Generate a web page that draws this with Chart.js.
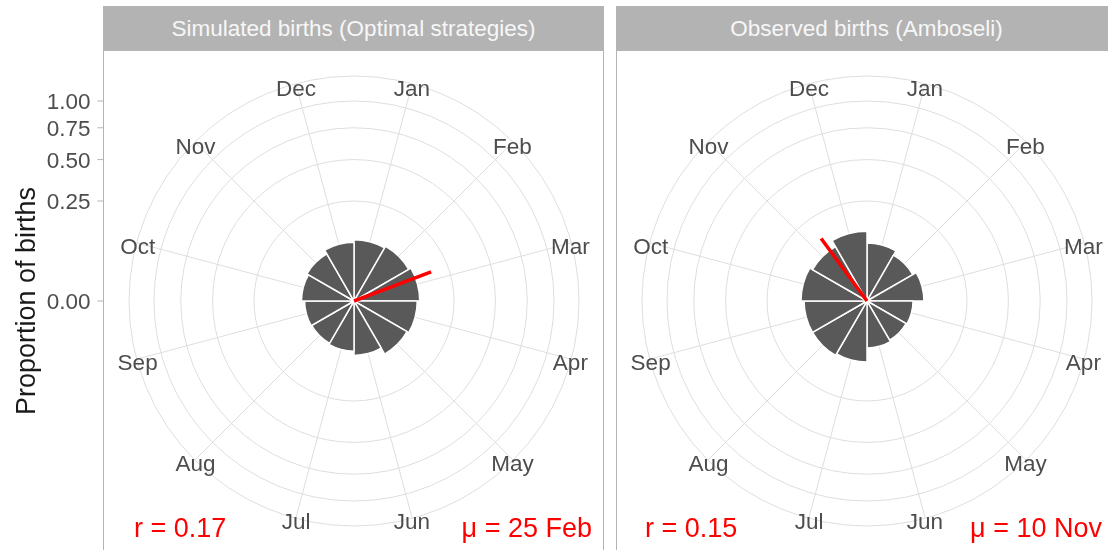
<!DOCTYPE html>
<html lang="en">
<head>
  <meta charset="UTF-8" />
  <title>Birth seasonality: simulated vs observed</title>
  <script src="https://cdn.jsdelivr.net/npm/chart.js@4"></script>
  <style>
    body {
      margin: 0;
      width: 1108px;
      height: 550px;
      overflow: hidden;
      background: #fff;
      position: relative;
      font-family: "Liberation Sans", Arial, sans-serif;
    }
    .strip {
      position: absolute;
      top: 6px;
      height: 45px;
      background: #b3b3b3;
      color: #f7f7f7;
      font-size: 22.5px;
      line-height: 46px;
      text-align: center;
      white-space: nowrap;
    }
    .panel {
      position: absolute;
      top: 50px;
      height: 502px;
      border: 1px solid #b3b3b3;
      box-sizing: border-box;
    }
    canvas { position: absolute; top: 51px; }
    .note {
      position: absolute;
      top: 510px;
      color: #ff0000;
      font-size: 27px;
      line-height: 36px;
      white-space: nowrap;
    }
  </style>
</head>
<body>
  <div class="panel" style="left:103px;width:501px"></div>
  <div class="panel" style="left:616px;width:501px"></div>
  <div class="strip" style="left:103px;width:501px">Simulated births (Optimal strategies)</div>
  <div class="strip" style="left:616px;width:501px">Observed births (Amboseli)</div>

  <canvas id="simChart" width="604" height="500" style="left:0"></canvas>
  <canvas id="obsChart" width="500" height="500" style="left:617px"></canvas>

  <div class="note" id="simR" style="left:134px"></div>
  <div class="note" id="simMu" style="right:516px"></div>
  <div class="note" id="obsR" style="left:645px"></div>
  <div class="note" id="obsMu" style="right:6px"></div>

  <script>
    // ---- data ----------------------------------------------------------
    const months = ['Jan', 'Feb', 'Mar', 'Apr', 'May', 'Jun',
                    'Jul', 'Aug', 'Sep', 'Oct', 'Nov', 'Dec'];
    const daysInMonth = [31, 28, 31, 30, 31, 30, 31, 31, 30, 31, 30, 31];

    // proportion of births per month
    const simulatedBirths = [0.094, 0.100, 0.108, 0.100, 0.094, 0.074,
                             0.063, 0.060, 0.061, 0.069, 0.074, 0.086];
    const observedBirths  = [0.084, 0.070, 0.081, 0.053, 0.051, 0.055,
                             0.093, 0.099, 0.099, 0.109, 0.099, 0.122];

    const proportionTicks = [0, 0.25, 0.5, 0.75, 1];

    // mean resultant length and mean birth date
    const simulatedR = 0.17;
    const simulatedMu = '25 Feb';
    const observedR = 0.15;
    const observedMu = '10 Nov';

    // radial limit: the outer ring sits at 1.125x the radius of 1.00
    const outerLimit = 1.125 * 1.125;

    // ---- square-root radial scale --------------------------------------
    class SqrtRadialScale extends Chart.RadialLinearScale {
      getDistanceFromCenterForValue(value) {
        if (value === null || isNaN(value)) return NaN;
        const k = this.drawingArea / Math.sqrt(this.max);
        return Math.sqrt(Math.max(value, 0)) * k;
      }
      getValueForDistanceFromCenter(distance) {
        const v = distance / (this.drawingArea / Math.sqrt(this.max));
        return v * v;
      }
    }
    SqrtRadialScale.id = 'sqrtRadial';
    Chart.register(SqrtRadialScale);

    // "25 Feb" -> position on the month axis (Jan = 1 at bar centre)
    function monthPosition(label) {
      const [d, m] = label.split(' ');
      const mi = months.indexOf(m);
      let day = Number(d) - 1;
      for (let i = 0; i < mi; i++) day += daysInMonth[i];
      return 1 + day / (365 / 12);
    }

    const GRID = '#dedede';
    const AXIS_TEXT = '#4d4d4d';
    const FONT = '"Liberation Sans", Arial, sans-serif';

    function decorPlugin(r, mu, withAxis) {
      return {
        id: 'polarDecor',
        beforeDatasetsDraw(chart) {
          const s = chart.scales.r;
          const ctx = chart.ctx;
          const step = 2 * Math.PI / months.length;
          ctx.save();
          ctx.strokeStyle = GRID;
          ctx.lineWidth = 1;
          months.forEach((m, i) => {
            const a = s.getIndexAngle(i) + step / 2 - Math.PI / 2;
            ctx.beginPath();
            ctx.moveTo(s.xCenter, s.yCenter);
            ctx.lineTo(s.xCenter + Math.cos(a) * s.drawingArea,
                       s.yCenter + Math.sin(a) * s.drawingArea);
            ctx.stroke();
          });
          ctx.restore();
        },
        afterDatasetsDraw(chart) {
          const s = chart.scales.r;
          const ctx = chart.ctx;
          const step = 2 * Math.PI / months.length;
          ctx.save();

          // mean direction vector
          const a = s.getIndexAngle(0) + (monthPosition(mu) - 0.5) * step - Math.PI / 2;
          const len = s.getDistanceFromCenterForValue(r);
          ctx.strokeStyle = '#ff0000';
          ctx.lineWidth = 3.5;
          ctx.beginPath();
          ctx.moveTo(s.xCenter, s.yCenter);
          ctx.lineTo(s.xCenter + Math.cos(a) * len, s.yCenter + Math.sin(a) * len);
          ctx.stroke();

          // month labels around the rim
          ctx.fillStyle = AXIS_TEXT;
          ctx.font = '22.5px ' + FONT;
          ctx.textAlign = 'center';
          ctx.textBaseline = 'middle';
          const labelR = s.drawingArea - 1;
          months.forEach((m, i) => {
            const t = s.getIndexAngle(i) + step / 2 - Math.PI / 2;
            ctx.fillText(m, s.xCenter + Math.cos(t) * labelR,
                            s.yCenter + Math.sin(t) * labelR + 5);
          });

          if (withAxis) {
            const x0 = 103.5;
            ctx.strokeStyle = '#b3b3b3';
            ctx.lineWidth = 1;
            ctx.textAlign = 'right';
            proportionTicks.forEach(v => {
              const y = s.yCenter - s.getDistanceFromCenterForValue(v);
              ctx.beginPath();
              ctx.moveTo(x0 - 6, y);
              ctx.lineTo(x0, y);
              ctx.stroke();
              ctx.fillText(v.toFixed(2), x0 - 13, y + 2);
            });
            ctx.fillStyle = '#1a1a1a';
            ctx.font = '27px ' + FONT;
            ctx.textAlign = 'center';
            ctx.translate(28, s.yCenter);
            ctx.rotate(-Math.PI / 2);
            ctx.fillText('Proportion of births', 0, 0);
          }
          ctx.restore();
        }
      };
    }

    function renderPolar(canvasId, values, r, mu, withAxis) {
      const pad = withAxis ? { left: 129, right: 25, top: 25, bottom: 25 } : 25;
      return new Chart(document.getElementById(canvasId), {
        type: 'polarArea',
        data: {
          labels: months,
          datasets: [{
            data: values,
            backgroundColor: '#595959',
            borderColor: '#ffffff',
            borderWidth: 1.5
          }]
        },
        options: {
          responsive: false,
          animation: false,
          layout: { padding: pad },
          plugins: { legend: { display: false }, tooltip: { enabled: false } },
          scales: {
            r: {
              type: 'sqrtRadial',
              min: 0,
              max: outerLimit,
              startAngle: 0,
              angleLines: { display: false },
              pointLabels: { display: false },
              grid: { circular: true, color: GRID, lineWidth: 1 },
              ticks: { display: false },
              afterBuildTicks: scale => {
                scale.ticks = proportionTicks.concat([outerLimit]).map(v => ({ value: v }));
              }
            }
          }
        },
        plugins: [decorPlugin(r, mu, withAxis)]
      });
    }

    renderPolar('simChart', simulatedBirths, simulatedR, simulatedMu, true);
    renderPolar('obsChart', observedBirths, observedR, observedMu, false);

    document.getElementById('simR').textContent = 'r = ' + simulatedR.toFixed(2);
    document.getElementById('simMu').textContent = '\u03bc = ' + simulatedMu;
    document.getElementById('obsR').textContent = 'r = ' + observedR.toFixed(2);
    document.getElementById('obsMu').textContent = '\u03bc = ' + observedMu;
  </script>
</body>
</html>
